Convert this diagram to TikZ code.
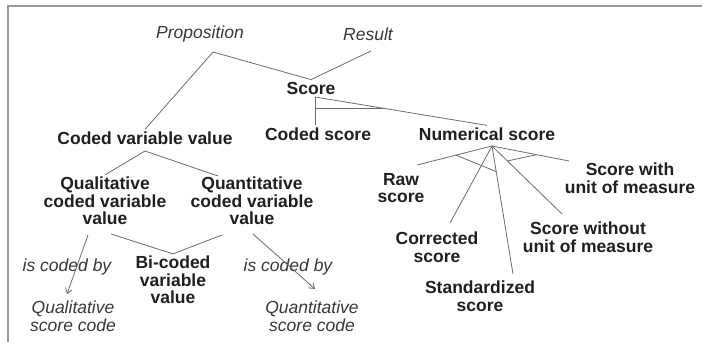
\documentclass[tikz,border=0pt]{standalone}
\usepackage{fontspec}
\setmainfont{Liberation Sans}
\usetikzlibrary{arrows.meta,calc}

\tikzset{
	cls/.style={font=\fontsize{17.5}{17.5}\selectfont\bfseries, align=center, text=black!88, inner sep=2pt},
	role/.style={font=\fontsize{17.5}{17.5}\selectfont\itshape, align=center, text=black!78, inner sep=2pt},
	link/.style={draw=black!58, line width=0.8pt},
	codedby/.style={link, -{Straight Barb[length=5pt,width=7pt]}},
}

\begin{document}
\begin{tikzpicture}[x=1pt, y=-1pt]
		
		\useasboundingbox (0,0) rectangle (702,342);
		\draw[black!40, line width=2pt] (8,342) -- (8,6) -- (702,6);
		
		% roles
		\node[role] (prop) at (200,34) {Proposition};
		\node[role] (result) at (368,34) {Result};
		
		% scores
		\node[cls] (score) at (311,88) {Score};
		\node[cls] (cscore) at (318,134) {Coded score};
		\node[cls] (nscore) at (487,134) {Numerical score};
		\node[cls] (raw) at (401,188) {Raw\\score};
		\node[cls] (swith) at (630,178) {Score with\\unit of measure};
		\node[cls] (corr) at (437,247) {Corrected\\score};
		\node[cls] (stand) at (480,296) {Standardized\\score};
		\node[cls] (swo) at (588,237) {Score without\\unit of measure};
		
		% coded variable values
		\node[cls] (cvv) at (145,138) {Coded variable value};
		\node[cls] (qual) at (105,201) {Qualitative\\coded variable\\value};
		\node[cls] (quant) at (252,201) {Quantitative\\coded variable\\value};
		\node[cls] (bicoded) at (173,280) {Bi-coded\\variable\\value};
		\node[role] (qualby) at (67,267) {is coded by};
		\node[role] (quantby) at (288,267) {is coded by};
		\node[role] (qualcode) at (73,316) {Qualitative\\score code};
		\node[role] (quantcode) at (312,316) {Quantitative\\score code};
		
		\coordinate (prop-j) at (213,52);
		\coordinate (result-j) at (371,51);
		\coordinate (cvv-j) at (145,151);
		\coordinate (quant-t) at (218,176);
		\coordinate (qual-b) at (111,234);
		\coordinate (quant-b) at (222,235);
		\coordinate (qual-a) at (88,235);
		\coordinate (quant-a) at (253,234);
		\coordinate (qualcode-t) at (67,294);
		\coordinate (quantcode-t) at (315,289);
		\coordinate (score-j) at (315,97);
		\coordinate (nscore-j) at (492,146);
		\coordinate (raw-t) at (417,165);
		\coordinate (swith-t) at (569,161);
		\coordinate (corr-t) at (450,223);
		\coordinate (stand-t) at (513,274);
		\coordinate (swo-t) at (562,214);
		
		\draw[link] (cvv.north) -- (prop-j) -- (score.north);
		\draw[link] (result-j) -- (score.north);
		
		\draw[link] (score-j) -- (score-j |- cscore.north);
		\draw[link] (score-j) -- (nscore.north);
		\draw[link] ($(score-j)!0.4!(score-j |- cscore.north)$) -- ($(score-j)!0.4!(nscore.north)$);
		
		\draw[link] (qual.north) -- (cvv-j) -- (quant-t);
		\draw[link] (qual-b) -- (bicoded.north) -- (quant-b);
		\draw[codedby] (qual-a) -- (qualcode-t);
		\draw[codedby] (quant-a) -- (quantcode-t);
		
		\foreach \e in {raw-t, swith-t, corr-t, stand-t, swo-t}
			\draw[link] (nscore-j) -- (\e);
		\draw[link] ($(nscore-j)!0.48!(raw-t)$) -- ($(nscore-j)!0.2!(stand-t)$);
		\draw[link] ($(nscore-j)!0.22!(swo-t)$) -- ($(nscore-j)!0.58!(swith-t)$);
		
	\end{tikzpicture}
\end{document}
